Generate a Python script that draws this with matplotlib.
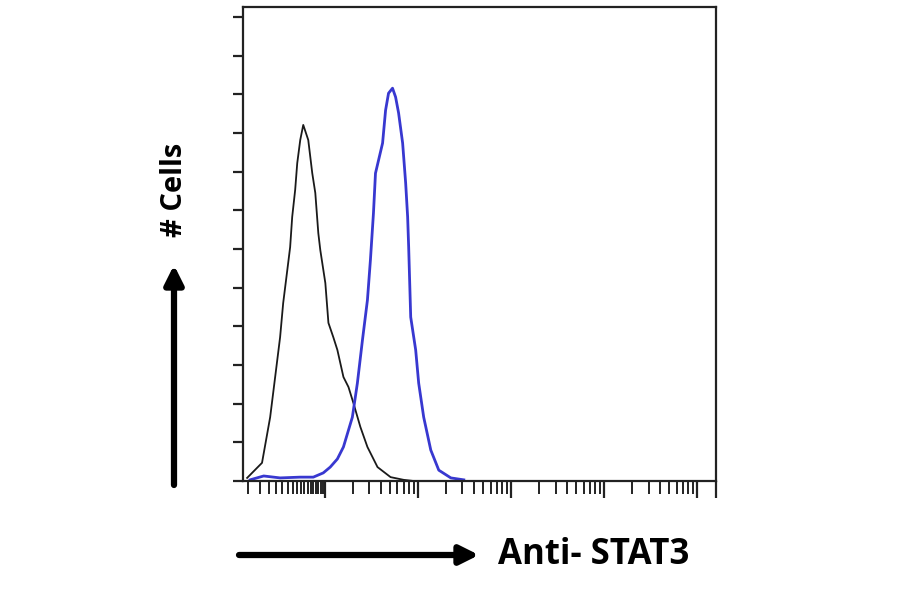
import numpy as np
import matplotlib.pyplot as plt
from matplotlib.ticker import FixedLocator, NullFormatter

# control (black) histogram: intensity vs cell count
ctrl_x = [1.46, 2.11, 2.58, 2.92, 3.30, 3.56, 4.03, 4.23, 4.45, 4.79, 5.04, 5.43,
          5.85, 6.62, 7.31, 7.88, 8.49, 8.92, 10.1, 10.9, 12.3, 13.6, 15.8, 17.9,
          20.2, 24.0, 28.6, 36.7, 50.7, 70.0, 89.8]
ctrl_y = [0.8, 4.7, 16.5, 26.9, 37.2, 46.0, 56.4, 60.5, 68.3, 75.3, 82.2, 88.2,
          92.1, 88.2, 79.6, 74.5, 64.1, 59.7, 51.2, 40.9, 37.2, 33.9, 26.9, 24.3,
          20.2, 14.0, 8.8, 3.6, 1.0, 0.3, 0.0]

# STAT3 stained (blue) histogram
stat3_x = [1.57, 2.2, 3.30, 5.43, 7.50, 9.6, 11.4, 13.6, 15.8, 19.7, 22.3, 25.3,
           28.6, 30.8, 33.2, 34.9, 41.6, 44.8, 48.2, 53.2, 57.4, 61.8, 68.3, 73.6,
           77.3, 79.3, 83.4, 94.3, 101.6, 115, 137, 167, 225, 310]
stat3_y = [0.3, 1.3, 0.8, 1.0, 1.0, 2.1, 3.6, 5.7, 8.8, 16.5, 25.3, 36.5,
           46.8, 57.2, 69.3, 79.6, 87.4, 95.9, 100.3, 101.6, 99.3, 95.2, 87.4, 77.1,
           68.3, 60.5, 42.4, 33.9, 25.3, 16.5, 8.0, 2.8, 0.8, 0.3]

y_ticks = list(range(0, 130, 10))
decades = [1e1, 1e2, 1e3, 1e4, 1e5]
x_lo, x_hi = 10 ** 0.12, 10 ** 5.2

fig = plt.figure(figsize=(9, 5.94), dpi=100)
ax = fig.add_axes([243 / 900, 113 / 594, 473 / 900, 474 / 594])

ax.plot(ctrl_x, ctrl_y, color="#1a1a1a", lw=1.3)
ax.plot(stat3_x, stat3_y, color="#3838d0", lw=2.0)

ax.set_xscale("log")
ax.set_xlim(x_lo, x_hi)
ax.set_ylim(0, 122.6)

# ticks: decades + right edge as major, log subs as minor (denser in first decade)
ax.xaxis.set_major_locator(FixedLocator(decades + [x_hi]))
minor = [s for s in np.arange(1.5, 10, 0.5) if s > x_lo]
for d in decades[:-1]:
    minor += [d * k for k in range(2, 10)]
ax.xaxis.set_minor_locator(FixedLocator(minor))
ax.xaxis.set_major_formatter(NullFormatter())
ax.xaxis.set_minor_formatter(NullFormatter())
ax.yaxis.set_major_locator(FixedLocator(y_ticks))
ax.yaxis.set_major_formatter(NullFormatter())

ax.tick_params(axis="x", which="major", direction="out", length=12, width=1.6, color="#222222")
ax.tick_params(axis="x", which="minor", direction="out", length=9, width=1.4, color="#222222")
ax.tick_params(axis="y", which="major", direction="out", length=7, width=1.6, color="#222222")
for sp in ax.spines.values():
    sp.set_linewidth(1.6)
    sp.set_color("#222222")

# axis labels with arrows
fig.text(175 / 900, 1 - 190 / 594, "# Cells", rotation=90, ha="center", va="center",
         fontsize=21, fontweight="bold", family=["Open Sans", "DejaVu Sans"])
fig.text(498 / 900, 1 - 555 / 594, "Anti- STAT3", ha="left", va="center",
         fontsize=25, fontweight="bold", family=["Open Sans", "DejaVu Sans"])

arrow = dict(arrowstyle="-|>", lw=4.5, mutation_scale=28, color="black",
             shrinkA=0, shrinkB=0)
ax.annotate("", xy=(174, 594 - 265), xytext=(174, 594 - 485),
            xycoords="figure pixels", textcoords="figure pixels", arrowprops=arrow)
ax.annotate("", xy=(479, 594 - 555), xytext=(239, 594 - 555),
            xycoords="figure pixels", textcoords="figure pixels", arrowprops=arrow)

fig.savefig("out.png", dpi=100)
